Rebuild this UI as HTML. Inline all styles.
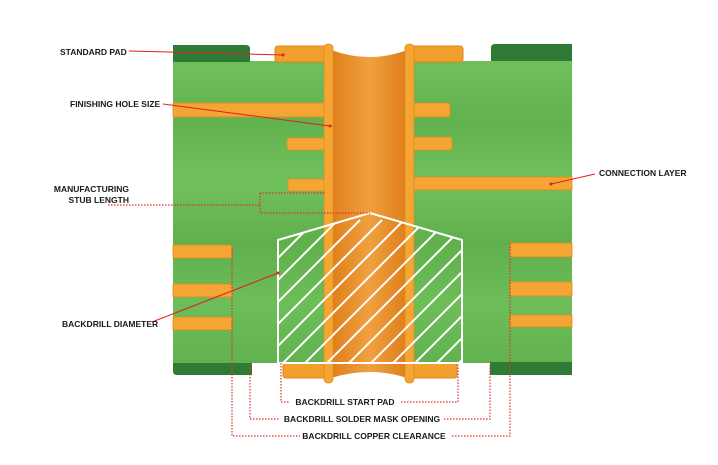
<!DOCTYPE html>
<html><head><meta charset="utf-8"><style>
html,body{margin:0;padding:0;background:#fff;}
svg{display:block;}
text{font-family:"Liberation Sans",sans-serif;font-weight:bold;font-size:8.5px;fill:#1a1a1a;}
</style></head><body>
<svg width="718" height="465" viewBox="0 0 718 465" xmlns="http://www.w3.org/2000/svg">
<defs>
<linearGradient id="g" x1="0" y1="0" x2="0" y2="1">
<stop offset="0" stop-color="#6fbf5a"/><stop offset="0.2" stop-color="#62b34f"/><stop offset="0.4" stop-color="#70c05c"/><stop offset="0.6" stop-color="#5fb04d"/><stop offset="0.8" stop-color="#6dbd59"/><stop offset="1" stop-color="#62b250"/>
</linearGradient>
<linearGradient id="b" x1="0" y1="0" x2="1" y2="0">
<stop offset="0" stop-color="#e0801c"/><stop offset="0.5" stop-color="#f0a040"/><stop offset="1" stop-color="#e0801c"/>
</linearGradient>
<clipPath id="hc"><polygon points="278,240 370,213 462,240 462,363 278,363"/></clipPath>
</defs>
<rect x="173" y="61" width="399" height="302" fill="url(#g)"/>
<path d="M173,45 H246 Q250,45 250,49 V62 H173 Z" fill="#2f7a35"/>
<path d="M495,44 H572 V61 H491 V48 Q491,44 495,44 Z" fill="#2f7a35"/>
<path d="M173,363 H252 V375 H177 Q173,375 173,371 Z" fill="#2f7a35"/>
<path d="M490,362 H572 V375 H490 Z" fill="#2f7a35"/>
<rect x="275" y="46" width="188" height="16" rx="3" fill="#f2a02c" stroke="#d9861c"/>
<rect x="283" y="363" width="174" height="15" rx="3" fill="#f2a02c" stroke="#d9861c"/>
<g fill="#f5a534" stroke="#dc8a22" stroke-width="0.8">
<rect x="173" y="103" width="155" height="14"/>
<rect x="410" y="103" width="40" height="14" rx="2"/>
<rect x="287" y="138" width="40" height="12" rx="2"/>
<rect x="410" y="137" width="42" height="13" rx="2"/>
<rect x="288" y="179" width="40" height="12" rx="2"/>
<rect x="410" y="177" width="162" height="13"/>
<rect x="173" y="245" width="59" height="13"/>
<rect x="173" y="284" width="59" height="13"/>
<rect x="173" y="317" width="59" height="13"/>
<rect x="510" y="243" width="62" height="14"/>
<rect x="510" y="282" width="62" height="14"/>
<rect x="510" y="315" width="62" height="12"/>
</g>
<path d="M333,50 Q370,65 405,50 V378 Q370,368 333,378 Z" fill="url(#b)"/>
<path d="M331,40 H407 V50 Q370,64 331,50 Z" fill="#fff"/>
<path d="M331,390 H407 V378 Q370,366 331,378 Z" fill="#fff"/>
<rect x="324" y="44" width="9" height="339" rx="4" fill="#f5a534" stroke="#dc8a22" stroke-width="0.8"/>
<rect x="405" y="44" width="9" height="339" rx="4" fill="#f5a534" stroke="#dc8a22" stroke-width="0.8"/>
<g clip-path="url(#hc)" stroke="#fff" stroke-width="2">
<path d="M160,420 L360,220 M182,420 L382,220 M204,420 L404,220 M226,420 L426,220 M248,420 L448,220 M270,420 L470,220 M292,420 L492,220 M314,420 L514,220 M336,420 L536,220 M358,420 L558,220 M380,420 L580,220 M402,420 L602,220 M424,420 L624,220 M446,420 L646,220 M138,420 L338,220 M116,420 L316,220 M94,420 L294,220"/>
</g>
<polygon points="278,240 370,213 462,240 462,363 278,363" fill="none" stroke="#fff" stroke-width="2"/>
<g fill="none" stroke="#e03030" stroke-width="1.2" stroke-dasharray="1.5,1.5">
<path d="M108,205 H260 M260,193 H325 M260,193 V213 H370"/>
<path d="M281,363 V402 H289 M401,402 H458 V363"/>
<path d="M250,365 V419 H280 M444,419 H490 V365"/>
<path d="M232,245 V436 H300 M452,436 H510 V243"/>
</g>
<g stroke="#e02020" stroke-width="1">
<line x1="129" y1="51" x2="283" y2="55"/>
<line x1="163" y1="104" x2="330" y2="126"/>
<line x1="152" y1="322" x2="278" y2="273"/>
<line x1="595" y1="174" x2="551" y2="184"/>
</g>
<g fill="#e02020"><circle cx="283" cy="55" r="1.5"/><circle cx="330" cy="126" r="1.5"/><circle cx="278" cy="273" r="1.5"/><circle cx="551" cy="184" r="1.5"/></g>
<text x="60" y="55">STANDARD PAD</text>
<text x="70" y="107">FINISHING HOLE SIZE</text>
<text x="129" y="192" text-anchor="end">MANUFACTURING</text>
<text x="129" y="203" text-anchor="end">STUB LENGTH</text>
<text x="62" y="327">BACKDRILL DIAMETER</text>
<text x="599" y="176">CONNECTION LAYER</text>
<text x="345" y="405" text-anchor="middle">BACKDRILL START PAD</text>
<text x="362" y="422" text-anchor="middle">BACKDRILL SOLDER MASK OPENING</text>
<text x="374" y="439" text-anchor="middle">BACKDRILL COPPER CLEARANCE</text>
</svg>
</body></html>
